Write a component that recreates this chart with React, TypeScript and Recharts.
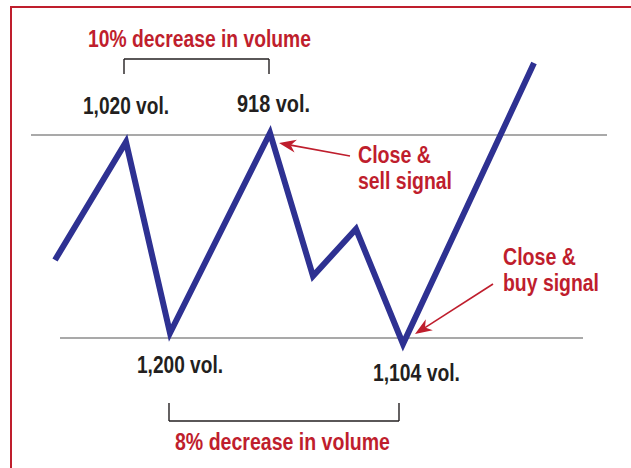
import React from 'react';
import { LineChart, Line, XAxis, YAxis, ReferenceLine, ReferenceDot } from 'recharts';

// ---- data (time units across, price units up) ----
const times = [55, 126, 170, 270, 313, 356, 403, 534];
const prices = [208, 326, 135, 335, 192, 239, 124, 405];

const resistanceLevel = 333;
const resistanceStart = 31;
const resistanceEnd = 607;
const supportLevel = 130;
const supportStart = 60;
const supportEnd = 583;

// volume annotations
const volumeTexts = ['1,020 vol.', '918 vol.', '1,200 vol.', '1,104 vol.'];
const volumeTimes = [126, 273.5, 180, 416.5];
const volumePrices = [354, 356, 95, 87];

// volume-decrease captions
const captionTexts = ['10% decrease in volume', '8% decrease in volume'];
const captionTimes = [199.5, 282.5];
const captionPrices = [421, 18];

// brackets: [left time, right time, bar price, tick-end price]
const bracketLeft = [124, 169];
const bracketRight = [269, 399];
const bracketBar = [409, 47];
const bracketTick = [394, 65];

// signal notes
const signalLines = [['Close &', 'sell signal'], ['Close &', 'buy signal']];
const signalTimes = [358, 503];
const signalPrices = [305, 203];
const arrowTail = [[350, 312], [493, 184]];
const arrowTip = [[279, 325], [415, 134]];

const W = 631;
const H = 468;
const BLUE = '#2e3192';
const RED = '#bf1e2d';
const DARK = '#231f20';
const FONT = "'Liberation Sans', Arial, sans-serif";

// rendered text widths (condensed face emulation)
const textWidths: Record<string, number> = {
  '10% decrease in volume': 223,
  '8% decrease in volume': 215,
  '1,020 vol.': 86,
  '918 vol.': 73,
  '1,200 vol.': 86,
  '1,104 vol.': 87,
  'Close &': 73,
  'sell signal': 94,
  'buy signal': 96,
};

const data = times.map((t, i) => ({ t, p: prices[i] }));

const arrowShape = (props: any) => {
  const { x1, y1, x2, y2 } = props;
  const dx = x2 - x1;
  const dy = y2 - y1;
  const len = Math.sqrt(dx * dx + dy * dy);
  const ux = dx / len;
  const uy = dy / len;
  const nx = -uy;
  const ny = ux;
  const L = 17;
  const w = 6.5;
  const bx = x2 - ux * L;
  const by = y2 - uy * L;
  const mx = x2 - ux * L * 0.7;
  const my = y2 - uy * L * 0.7;
  return (
    <g>
      <line x1={x1} y1={y1} x2={mx} y2={my} stroke={RED} strokeWidth={1.6} />
      <polygon
        points={`${x2},${y2} ${bx + nx * w},${by + ny * w} ${mx},${my} ${bx - nx * w},${by - ny * w}`}
        fill={RED}
      />
    </g>
  );
};

const textShape = (text: string, color: string, size: number, anchor: string) => (props: any) => (
  <text
    x={props.cx}
    y={props.cy}
    fill={color}
    fontSize={size}
    fontWeight="bold"
    fontFamily={FONT}
    textAnchor={anchor}
    textLength={textWidths[text]}
    lengthAdjust="spacingAndGlyphs"
  >
    {text}
  </text>
);

export default function App() {
  const bracketSegments: any[] = [];
  bracketLeft.forEach((l, i) => {
    const r = bracketRight[i];
    const b = bracketBar[i];
    const k = bracketTick[i];
    bracketSegments.push([{ x: l, y: b }, { x: r, y: b }]);
    bracketSegments.push([{ x: l, y: b }, { x: l, y: k }]);
    bracketSegments.push([{ x: r, y: b }, { x: r, y: k }]);
  });

  return (
    <div style={{ position: 'absolute', left: 0, top: 0, width: W, height: H, overflow: 'hidden', background: '#fff' }}>
      <div
        style={{
          position: 'absolute',
          left: 10,
          top: 6,
          width: 700,
          height: 600,
          border: `2px solid ${RED}`,
        }}
      />
      <div style={{ position: 'absolute', left: 0, top: 0 }}>
        <LineChart width={W} height={H} data={data} margin={{ top: 0, right: 0, bottom: 0, left: 0 }}>
          <XAxis dataKey="t" type="number" domain={[0, W]} hide allowDataOverflow />
          <YAxis type="number" domain={[0, H]} hide allowDataOverflow />
          <ReferenceLine
            segment={[{ x: resistanceStart, y: resistanceLevel }, { x: resistanceEnd, y: resistanceLevel }]}
            stroke="#8c8c8c"
            strokeWidth={1.6}
          />
          <ReferenceLine
            segment={[{ x: supportStart, y: supportLevel }, { x: supportEnd, y: supportLevel }]}
            stroke="#8c8c8c"
            strokeWidth={1.6}
          />
          {bracketSegments.map((s, i) => (
            <ReferenceLine key={'b' + i} segment={s} stroke={DARK} strokeWidth={1.4} />
          ))}
          <Line
            dataKey="p"
            type="linear"
            stroke={BLUE}
            strokeWidth={6}
            strokeLinejoin="miter"
            strokeLinecap="butt"
            dot={false}
            activeDot={false}
            isAnimationActive={false}
          />
          {arrowTail.map((tail, i) => (
            <ReferenceLine
              key={'a' + i}
              segment={[{ x: tail[0], y: tail[1] }, { x: arrowTip[i][0], y: arrowTip[i][1] }]}
              shape={arrowShape}
            />
          ))}
          {volumeTexts.map((t, i) => (
            <ReferenceDot
              key={'v' + i}
              x={volumeTimes[i]}
              y={volumePrices[i]}
              r={0}
              shape={textShape(t, DARK, 23, 'middle')}
            />
          ))}
          {captionTexts.map((t, i) => (
            <ReferenceDot
              key={'c' + i}
              x={captionTimes[i]}
              y={captionPrices[i]}
              r={0}
              shape={textShape(t, RED, 23.5, 'middle')}
            />
          ))}
          {signalLines.map((lines, i) =>
            lines.map((t, j) => (
              <ReferenceDot
                key={'s' + i + j}
                x={signalTimes[i]}
                y={signalPrices[i] - j * 26}
                r={0}
                shape={textShape(t, RED, 23, 'start')}
              />
            ))
          )}
        </LineChart>
      </div>
    </div>
  );
}
